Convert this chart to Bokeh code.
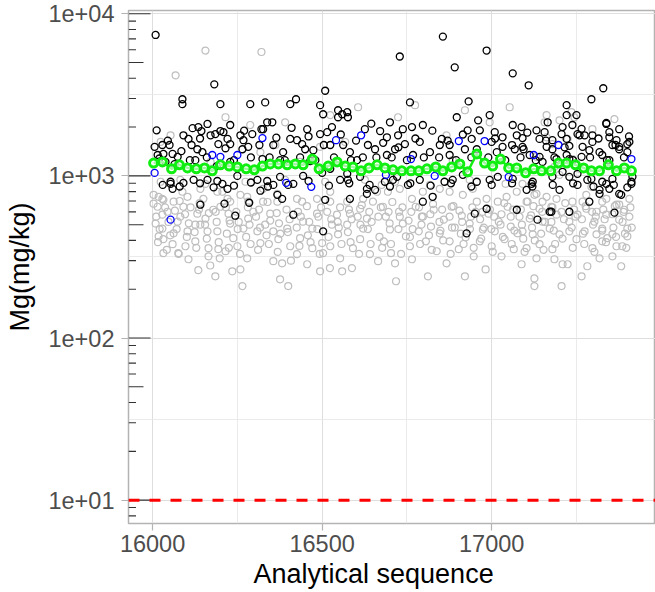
from bokeh.plotting import figure
from bokeh.models import FixedTicker, Span, Range1d, Title
from bokeh.embed import file_html
from bokeh.resources import INLINE

# ---------------- data ----------------
green_x = [16003, 16029, 16056, 16079, 16103, 16129, 16153, 16176, 16200, 16226,
           16250, 16276, 16300, 16324, 16347, 16371, 16397, 16421, 16444, 16471,
           16491, 16518, 16544, 16568, 16591, 16615, 16638, 16662, 16685, 16709,
           16735, 16762, 16785, 16809, 16835, 16856, 16882, 16906, 16929, 16956,
           16979, 17003, 17026, 17050, 17074, 17100, 17124, 17147, 17174, 17197,
           17221, 17247, 17271, 17294, 17318, 17344, 17368, 17391, 17412]
green_y = [1200, 1220, 1105, 1170, 1120, 1105, 1120, 1075, 1170, 1150,
           1135, 1105, 1090, 1150, 1185, 1185, 1170, 1185, 1170, 1270,
           1105, 1150, 1220, 1150, 1135, 1075, 1120, 1170, 1120, 1090,
           1075, 1075, 1075, 1105, 1135, 1075, 1135, 1185, 1060, 1365,
           1200, 1150, 1270, 1120, 1120, 1045, 1105, 1075, 1075, 1200,
           1200, 1170, 1120, 1075, 1075, 1170, 1075, 1120, 1075]

blue_x = [16006, 16324, 16176, 16200, 16250, 16394, 16468, 16541, 16615, 16053,
          16688, 16762, 16832, 16903, 16979, 17050, 17124, 17197, 17412]
blue_y = [1043, 1710, 1345, 1310, 1345, 906, 856, 1660, 1780, 537,
          1014, 1270, 1000, 1640, 1640, 985, 1345, 1550, 1270]

black_x = [16009, 16088, 16182, 16423, 16509, 16332, 16729, 16856, 16891, 16985,
           17062, 16932, 16759, 17109, 17329, 17294,
           16012, 16006, 16029, 16050, 16032, 16015, 16059, 16074, 16091, 16106,
           16118, 16135, 16144, 16162, 16115, 16132, 16147, 16171, 16185, 16200,
           16209, 16229, 16194, 16221, 16229, 16259, 16268, 16282, 16265, 16294,
           16321, 16338, 16353, 16326, 16356, 16385, 16406, 16426, 16441, 16450,
           16474, 16456, 16494, 16515, 16503, 16547, 16559, 16576, 16529, 16524,
           16562, 16582, 16626, 16635, 16656,
           16053, 16059, 16091, 16121, 16162, 16191, 16206, 16250, 16309, 16338,
           16376, 16415, 16444, 16500, 16553, 16576, 16612, 16632, 16656, 16574,
           16524, 16356,
           16088, 16200, 16288, 16406, 16547, 16494, 16574,
           16038, 16229, 16324, 16465, 16603, 16126, 16376,
           16141, 16212, 16244, 16285, 16415, 16503, 16509, 16582, 16632, 16368,
           16382, 16318, 16221, 16053, 16926,
           16671, 16691, 16700, 16724, 16738, 16765, 16797, 16744, 16715, 16788,
           16818, 16847, 16853, 16876, 16897, 16929, 16941, 16921, 16965, 16994,
           17009, 17000, 17032, 17032, 17062, 17074, 17091, 17068, 17132, 17141,
           17156, 17162, 17179, 17221, 17221, 17238, 17221, 17259, 17268, 17297,
           17338, 17347, 17356, 17376, 17400, 17400, 17318, 17221, 17141, 17015,
           16956, 16876, 16768, 16691,
           16685, 16709, 16721, 16753, 16788, 16861, 16885, 16915, 16956, 16994,
           17018, 17062, 17118, 17179, 17229, 17253, 17282, 17318, 17338, 17356,
           17376, 17412, 17103, 16797, 16826, 16985, 17074, 17171, 16950,
           17165, 17088, 17091, 17094, 17179, 17206, 17229, 17253, 17274, 17297,
           17288, 17347, 17368, 17376, 17406, 17347, 17326, 17265, 17229, 17191,
           17150, 17112, 17209, 17253, 17294, 17326, 17318, 17347, 17382, 17412,
           17415, 17121, 17200, 17288, 17176, 17229, 17362, 17135, 17250, 17209,
           17338, 17376,
           16020, 16045, 16065, 16085, 16110, 16140, 16160, 16190, 16215, 16240,
           16270, 16290, 16315, 16345, 16365, 16390, 16410, 16435, 16460, 16480,
           16505, 16535, 16555, 16585, 16600, 16620, 16645, 16660, 16680, 16705,
           16725, 16750, 16775, 16800, 16825, 16845, 16870, 16895, 16915, 16940,
           16960, 16990, 17010, 17040, 17060, 17085, 17105, 17130, 17160, 17185,
           17215, 17240, 17265, 17290, 17315, 17340, 17365, 17390, 17405,
           16030, 16080, 16140, 16180, 16240, 16290, 16340, 16400, 16460, 16520,
           16580, 16640, 16700, 16760, 16820, 16880, 16940, 17000, 17060, 17120,
           17180, 17240, 17300, 17360, 17400]
black_y = [7400, 2970, 3670, 2970, 3350, 2840, 5450, 7230, 4670, 5930,
           4290, 2880, 2840, 3620, 3470, 2970,
           1910, 1510, 1550, 1550, 1365, 1345, 1365, 1310, 1780, 1690,
           1970, 2000, 1890, 2090, 1550, 1460, 1400, 1780, 1810, 1890,
           1860, 2060, 1570, 1690, 1570, 1780, 1660, 1510, 1460, 1810,
           1940, 2140, 2140, 1940, 1550, 1400, 1690, 1660, 1570, 1460,
           1440, 1940, 1810, 1860, 2400, 2300, 2400, 2300, 2000, 1550,
           1550, 1400, 1940, 1550, 1460,
           920, 832, 905, 945, 945, 930, 893, 1000, 945, 930,
           986, 893, 1000, 1045, 945, 945, 986, 832, 820, 1030,
           1105, 880,
           2770, 2770, 2770, 2770, 2540, 2730, 2470,
           1220, 1220, 1270, 1235, 1250, 1250, 1250,
           664, 674, 568, 683, 576, 455, 712, 722, 775, 764,
           722, 810, 832, 893, 442,
           1890, 1730, 2140, 1780, 1940, 2000, 2060, 1570, 1460, 1620,
           1400, 1550, 1690, 1550, 2300, 1910, 1690, 1460, 1910, 2370,
           1860, 1620, 1730, 1510, 2060, 1780, 1510, 1460, 1910, 1690,
           1860, 1510, 1660, 2730, 2370, 2060, 1690, 1780, 1510, 1620,
           2090, 1730, 1550, 1510, 1570, 1400, 1400, 1345, 1310, 1400,
           1460, 1345, 1345, 1345,
           920, 945, 986, 880, 945, 920, 945, 1015, 920, 945,
           986, 958, 893, 986, 986, 880, 945, 820, 893, 958,
           775, 920, 820, 693, 743, 627, 618, 601, 585,
           2140, 2000, 1710, 1460, 1460, 1810, 1530, 1810, 1780, 1780,
           1440, 1860, 1660, 1460, 1620, 1250, 1345, 1310, 1270, 1270,
           1220, 1345, 1060, 1030, 958, 920, 775, 832, 764, 893,
           986, 920, 820, 693, 601, 601, 593, 537, 2370, 2000,
           2120, 1940,
           1280, 1650, 1180, 1420, 1250, 1700, 1300, 1150, 1480, 1250,
           1900, 1300, 1550, 1300, 1720, 1250, 1980, 1300, 1750, 1250,
           1550, 1300, 1800, 1250, 1650, 1300, 2100, 1300, 1600, 1300,
           1500, 1250, 1700, 1300, 1900, 1300, 1650, 1250, 1800, 1300,
           2200, 1300, 1700, 1250, 1550, 1300, 1850, 1250, 1650, 1300,
           1500, 1250, 1950, 1300, 1700, 1250, 1550, 1300, 1750,
           880, 860, 900, 850, 870, 910, 860, 880, 930, 870,
           900, 880, 860, 900, 870, 900, 860, 880, 900, 860,
           880, 900, 860, 880, 850]

gray_x = [16003, 16003, 16018, 16032, 16015, 16009, 16029, 16044, 16029, 16018,
          16032, 16032, 16059, 16062, 16074, 16082, 16088, 16091, 16103, 16097,
          16076, 16106, 16126, 16126, 16132, 16141, 16156, 16162, 16165, 16165,
          16135, 16191, 16194, 16215, 16179, 16200, 16221, 16224, 16229, 16238,
          16250, 16259, 16265, 16279, 16268, 16282, 16297, 16309, 16318, 16332,
          16347, 16356, 16371, 16376, 16382, 16356, 16397, 16406, 16400, 16426,
          16435, 16444, 16456, 16471, 16471, 16485, 16500, 16503, 16524, 16529,
          16544, 16553, 16559, 16547, 16574, 16582, 16591, 16612, 16621, 16632,
          16641, 16665, 16650, 16612, 16524, 16441, 16368, 16282, 16206, 16259,
          16326, 16141,
          16029, 16062, 16103, 16150, 16191, 16229, 16279, 16326, 16368, 16426,
          16485, 16524, 16574, 16621, 16662,
          16053, 16288, 16362, 16524, 16606, 16156, 16321, 16068, 16024, 16171,
          16318, 16435, 16568, 16494, 16391, 16215,
          16676, 16694, 16729, 16765, 16797, 16847, 16876, 16915, 16944, 16956,
          16985, 17018, 17044, 17074, 17106, 17132, 17150, 17191, 17238, 17279,
          17338, 17376, 17406,
          16724, 16774, 16921, 17053, 17200, 17162, 16994, 17297, 17362, 17397,
          16867, 16885, 17132, 17238, 17156, 17235, 17244, 17162, 17179, 17224,
          17185, 17200, 17259,
          16679, 16688, 16700, 16682, 16703, 16715, 16727, 16738, 16747, 16759,
          16765, 16776, 16785, 16794, 16806, 16812, 16821, 16829, 16838, 16847,
          16859, 16867, 16876, 16882, 16891, 16903, 16912, 16923, 16935, 16947,
          16953, 16965, 16974, 16982, 16991, 17000, 17009, 17021, 17029, 17038,
          17047, 17056, 17065, 17076, 17082, 16921, 16718,
          17091, 17103, 17126, 17141, 17162, 17176, 17150, 17112, 17091, 17121,
          17171, 17200, 17191, 17229, 17253, 17268, 17294, 17279, 17309, 17326,
          17338, 17368, 17376, 17400, 17391, 17356, 17326, 17297, 17309, 17274,
          17250, 17229, 17179, 17141, 17103, 17132, 17185, 17209, 17224, 17088,
          17126, 17126, 17206, 17265, 17282, 17318, 17356, 17382, 17385, 17400,
          17368, 17341, 17326, 17303,
          16235, 16588, 16494, 16185,
          16024, 16082, 16156, 16274, 16391, 16509, 16626,
          16715, 16818, 16935, 17041,
          16011, 16016, 16021, 16037, 16042, 16047, 16052, 16066, 16071, 16077,
          16080, 16096, 16101, 16107, 16112, 16124, 16129, 16137, 16139, 16155,
          16160, 16166, 16170, 16186, 16189, 16195, 16198, 16216, 16219, 16225,
          16227, 16247, 16251, 16254, 16258, 16276, 16281, 16286, 16289, 16305,
          16311, 16314, 16317, 16336, 16339, 16343, 16347, 16366, 16369, 16373,
          16377, 16395, 16399, 16404, 16408, 16425, 16429, 16433, 16437, 16455,
          16458, 16462, 16466, 16486, 16489, 16493, 16497, 16515, 16519, 16523,
          16527, 16546, 16549, 16553, 16557, 16576, 16579, 16584, 16587, 16605,
          16609, 16613, 16617, 16635, 16639, 16643, 16646, 16666, 16669, 16673,
          16677, 16696, 16699, 16703, 16707, 16725, 16729, 16733, 16737, 16755,
          16759, 16763, 16767, 16786, 16789, 16793, 16797, 16815, 16819, 16823,
          16827, 16846, 16849, 16854, 16857, 16876, 16879, 16883, 16887, 16905,
          16909, 16913, 16917, 16936, 16939, 16943, 16947, 16966, 16969, 16973,
          16977, 16995, 16999, 17003, 17007, 17026, 17029, 17033, 17037, 17056,
          17059, 17063, 17067, 17086, 17089, 17093, 17097, 17116, 17119, 17123,
          17127, 17146, 17149, 17153, 17157, 17176, 17179, 17183, 17187, 17206,
          17209, 17213, 17217, 17236, 17239, 17243, 17247, 17266, 17269, 17273,
          17277, 17296, 17299, 17303, 17307, 17326, 17329, 17333, 17337, 17356,
          17359, 17363, 17367, 17386, 17389, 17393, 17397, 17406, 17409, 17413]
gray_y = [764, 674, 743, 712, 645, 508, 576, 601, 473, 424,
          407, 334, 379, 442, 522, 560, 798, 645, 455, 368,
          334, 306, 395, 500, 585, 500, 545, 455, 358, 319,
          262, 455, 353, 343, 618, 645, 722, 585, 508, 413,
          368, 265, 209, 310, 473, 545, 601, 455, 385, 500,
          585, 455, 407, 230, 289, 298, 473, 368, 209, 329,
          413, 522, 285, 358, 473, 585, 385, 334, 368, 500,
          576, 310, 258, 436, 500, 585, 358, 407, 473, 545,
          329, 298, 693, 627, 693, 693, 693, 693, 798, 764,
          832, 832,
          722, 693, 743, 722, 798, 693, 743, 693, 775, 722,
          722, 798, 693, 722, 798,
          1780, 2060, 1550, 2370, 2650, 5930, 5810, 4170, 1620, 1220,
          1400, 1220, 1620, 1510, 2140, 2300,
          880, 798, 832, 722, 798, 832, 798, 764, 832, 693,
          722, 693, 743, 798, 693, 775, 693, 722, 693, 764,
          722, 664, 722,
          2300, 2730, 2540, 2650, 2200, 2370, 2140, 1940, 2240, 1550,
          1780, 1250, 1310, 1270, 2140, 2470, 2300, 1730, 1570, 1690,
          1135, 1015, 1105,
          645, 560, 467, 395, 334, 289, 601, 508, 424, 368,
          306, 645, 455, 560, 395, 240, 487, 618, 343, 442,
          537, 289, 395, 645, 480, 353, 568, 418, 508, 319,
          601, 395, 467, 265, 585, 368, 455, 522, 319, 407,
          645, 487, 353, 442, 560, 240, 224,
          893, 693, 764, 627, 743, 645, 522, 545, 455, 436,
          473, 436, 576, 522, 576, 693, 856, 627, 601, 693,
          576, 664, 537, 473, 618, 436, 395, 358, 436, 455,
          407, 455, 353, 379, 358, 310, 306, 285, 285, 285,
          233, 209, 209, 240, 277, 310, 319, 277, 368, 424,
          368, 413, 473, 522,
          258, 270, 258, 240,
          920, 945, 893, 920, 945, 920, 945,
          920, 880, 945, 893,
          560, 390, 470, 640, 350, 520, 430, 610, 470, 330,
          700, 580, 420, 510, 640, 450, 360, 620, 680, 500,
          410, 590, 280, 600, 520, 390, 310, 640, 440, 360,
          530, 600, 470, 520, 330, 420, 640, 500, 380, 560,
          350, 620, 480, 430, 690, 380, 530, 590, 340, 510,
          440, 620, 450, 540, 300, 480, 600, 370, 560, 650,
          430, 520, 390, 470, 560, 330, 640, 600, 420, 270,
          540, 520, 480, 640, 380, 450, 620, 390, 540, 560,
          330, 500, 660, 470, 600, 380, 520, 560, 420, 640,
          360, 600, 510, 380, 690, 470, 560, 330, 640, 530,
          420, 600, 470, 640, 380, 500, 560, 430, 580, 350,
          670, 520, 460, 620, 400, 560, 330, 480, 650, 610,
          440, 520, 380, 470, 560, 640, 360, 540, 410, 600,
          480, 620, 470, 340, 560, 500, 580, 420, 680, 560,
          380, 620, 460, 620, 500, 410, 340, 570, 480, 650,
          400, 440, 600, 350, 520, 520, 640, 460, 380, 600,
          410, 540, 680, 480, 360, 620, 560, 540, 440, 380,
          650, 600, 500, 340, 560, 460, 620, 540, 390, 580,
          480, 650, 420, 520, 600, 440, 360, 560, 640, 480]

x_ticks = [16000, 16500, 17000]
x_minor = [16250, 16750, 17250]
y_ticks = [10, 100, 1000, 10000]
y_labels = ["1e+01", "1e+02", "1e+03", "1e+04"]
y_minor = [31.62, 316.2, 3162]
limit_line = 10
x_title = "Analytical sequence"
y_title = "Mg(mg/kg)"

x_lo, x_hi = 15929, 17483
y_lo, y_hi = 10 ** 0.856, 10 ** 4.02

W, H = 655, 592
B_LEFT, B_RIGHT, B_TOP, B_BOTTOM = 128, 0, 10, 69

p = figure(width=W, height=H, x_range=Range1d(x_lo, x_hi), y_range=Range1d(y_lo, y_hi),
           y_axis_type="log", output_backend="svg", toolbar_location=None,
           min_border_left=B_LEFT, min_border_right=B_RIGHT,
           min_border_top=B_TOP, min_border_bottom=B_BOTTOM,
           background_fill_color="white", border_fill_color="white")

p.outline_line_color = "#B3B3B3"
p.outline_line_width = 1.5

FONT = "Liberation Sans"
p.xaxis.ticker = FixedTicker(ticks=x_ticks, minor_ticks=x_minor)
p.yaxis.ticker = FixedTicker(ticks=y_ticks, minor_ticks=y_minor)
p.yaxis.major_label_overrides = dict(zip(y_ticks, y_labels))
for ax in (p.xaxis[0], p.yaxis[0]):
    ax.axis_line_color = None
    ax.major_tick_line_color = "#B3B3B3"
    ax.major_tick_line_width = 1.2
    ax.major_tick_out = 7
    ax.major_tick_in = 0
    ax.minor_tick_line_color = None
    ax.major_label_text_font = FONT
    ax.major_label_text_font_size = "23.5px"
    ax.major_label_text_color = "#4D4D4D"
    ax.axis_label_text_font = FONT
    ax.axis_label_text_font_size = "27px"
    ax.axis_label_text_font_style = "normal"
    ax.axis_label_text_color = "black"
p.yaxis.axis_label = y_title
p.xaxis.major_label_standoff = 4
p.yaxis.major_label_standoff = 7
p.yaxis.axis_label_standoff = 10

p.add_layout(Title(text=x_title, align="left", offset=125, standoff=5,
                   text_font=FONT, text_font_size="27px", text_font_style="normal",
                   text_color="black"), "below")

for g in (p.xgrid[0], p.ygrid[0]):
    g.grid_line_color = "#DEDEDE"
    g.grid_line_width = 1
    g.minor_grid_line_color = "#E6E6E6"
    g.minor_grid_line_width = 0.8

p.scatter(gray_x, gray_y, marker="circle", size=7, fill_color=None,
          line_color="#BEBEBE", line_width=1.2)
p.scatter(black_x, black_y, marker="circle", size=7, fill_color=None,
          line_color="black", line_width=1.3)
p.scatter(blue_x, blue_y, marker="circle", size=7, fill_color=None,
          line_color="#0000FF", line_width=1.3)
p.line(green_x, green_y, line_color="#11EE11", line_width=2.5)
p.scatter(green_x, green_y, marker="circle", size=8, fill_color="white",
          fill_alpha=0.6, line_color="#11EE11", line_width=3)

p.add_layout(Span(location=limit_line, dimension="width", line_color="red",
                  line_width=3, line_dash="11 10"))

frame_w = W - B_LEFT - B_RIGHT
ppu = frame_w / (x_hi - x_lo)
lt_y, lt_x1 = [], []
for d in range(0, 5):
    for m in range(1, 10):
        v = m * 10 ** d
        if y_lo <= v <= y_hi:
            L = 22 if m == 1 else (15 if m == 5 else 7.5)
            lt_y.append(v)
            lt_x1.append(x_lo + L / ppu)
p.segment(x0=[x_lo] * len(lt_y), y0=lt_y, x1=lt_x1, y1=lt_y,
          line_color="#333333", line_width=1.1)

open("out.html", "w").write(file_html(p, INLINE))
